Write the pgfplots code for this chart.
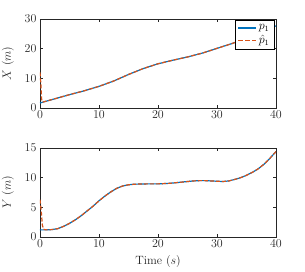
\documentclass[border=0pt]{standalone}
\usepackage{pgfplots}
\pgfplotsset{compat=1.18}
\definecolor{mblue}{rgb}{0,0.447,0.741}
\definecolor{morange}{rgb}{0.85,0.325,0.098}
\definecolor{axgray}{rgb}{0.15,0.15,0.15}
\pgfplotstableread{
t x
0 1.7
2.5 3.1
5 4.5
7.5 5.8
10 7.3
12.5 9.1
15 11.3
17.5 13.3
20 14.9
22.5 16.1
25 17.2
27.5 18.5
30 20.1
32.5 21.7
35 23.4
37.5 25.4
40 27.7
}\xtab
\pgfplotstableread{
t x
0 12.0
0.15 8.0
0.3 2.3
0.5 2.0
2.5 3.1
5 4.5
7.5 5.8
10 7.3
12.5 9.1
15 11.3
17.5 13.3
20 14.9
22.5 16.1
25 17.2
27.5 18.5
30 20.1
32.5 21.7
35 23.4
37.5 25.4
40 27.7
}\xhat
\pgfplotstableread{
t y
0 1.2
1 1.2
2 1.25
3 1.4
4 1.8
5 2.3
6 2.9
7 3.6
8 4.4
9 5.2
10 6.1
11 6.9
12 7.6
13 8.2
14 8.6
15 8.8
16 8.9
18 8.95
20 8.95
22 9.05
24 9.25
26 9.45
27 9.5
28 9.5
30 9.4
31 9.35
32 9.45
33 9.7
34 10.0
35 10.4
36 10.9
37 11.5
38 12.3
39 13.3
40 14.4
}\ytab
\pgfplotstableread{
t y
0 6.3
0.2 4.5
0.4 2.0
0.6 1.3
1 1.2
2 1.25
3 1.4
4 1.8
5 2.3
6 2.9
7 3.6
8 4.4
9 5.2
10 6.1
11 6.9
12 7.6
13 8.2
14 8.6
15 8.8
16 8.9
18 8.95
20 8.95
22 9.05
24 9.25
26 9.45
27 9.5
28 9.5
30 9.4
31 9.35
32 9.45
33 9.7
34 10.0
35 10.4
36 10.9
37 11.5
38 12.3
39 13.3
40 14.4
}\yhat
\begin{document}
\begin{tikzpicture}
\pgfplotsset{
  every axis/.style={
    scale only axis,
    width=236pt, height=89pt,
    xmin=0, xmax=40,
    xtick={0,10,20,30,40},
    tick align=inside,
    tick pos=both,
    major tick length=3pt,
    axis line style={axgray, line width=0.4pt},
    every tick/.style={axgray, line width=0.4pt},
    tick label style={font=\fontsize{12}{14}\selectfont, text=axgray},
    label style={font=\fontsize{12}{14}\selectfont, text=axgray},
    xticklabel style={yshift=1pt},
    anchor=south west,
  },
}
\path[use as bounding box] (-40pt,-34pt) rectangle (265pt,237pt);
\begin{axis}[at={(0pt,129pt)},
  ymin=0, ymax=30, ytick={0,10,20,30},
  ylabel={$X$ $(m)$},
  ylabel style={yshift=4pt},
  legend style={at={(0.992,0.99)}, anchor=north east, font=\fontsize{12}{14}\selectfont, inner sep=2.5pt, fill=white},
  legend cell align=left,
  legend image code/.code={\draw[#1, line width=1.3pt] (0pt,0pt) -- (18pt,0pt);},
]
\addplot[forget plot, color=mblue, line width=1.2pt] table[x=t,y=x] {\xtab};
\addplot[forget plot, color=morange, line width=1.2pt, dash pattern=on 4pt off 2pt] table[x=t,y=x] {\xhat};
\addlegendimage{color=mblue}
\addlegendentry{$p_1$}
\addlegendimage{color=morange, dash pattern=on 4.5pt off 2.5pt}
\addlegendentry{$\hat{p}_1$}
\end{axis}
\begin{axis}[at={(0pt,0pt)},
  ymin=0, ymax=15, ytick={0,5,10,15},
  ylabel={$Y$ $(m)$},
  ylabel style={yshift=4pt},
  xlabel={Time $(s)$},
  xlabel style={yshift=-1pt},
]
\addplot[color=mblue, line width=1.2pt] table[x=t,y=y] {\ytab};
\addplot[color=morange, line width=1.2pt, dash pattern=on 4pt off 2pt] table[x=t,y=y] {\yhat};
\end{axis}
\end{tikzpicture}
\end{document}
